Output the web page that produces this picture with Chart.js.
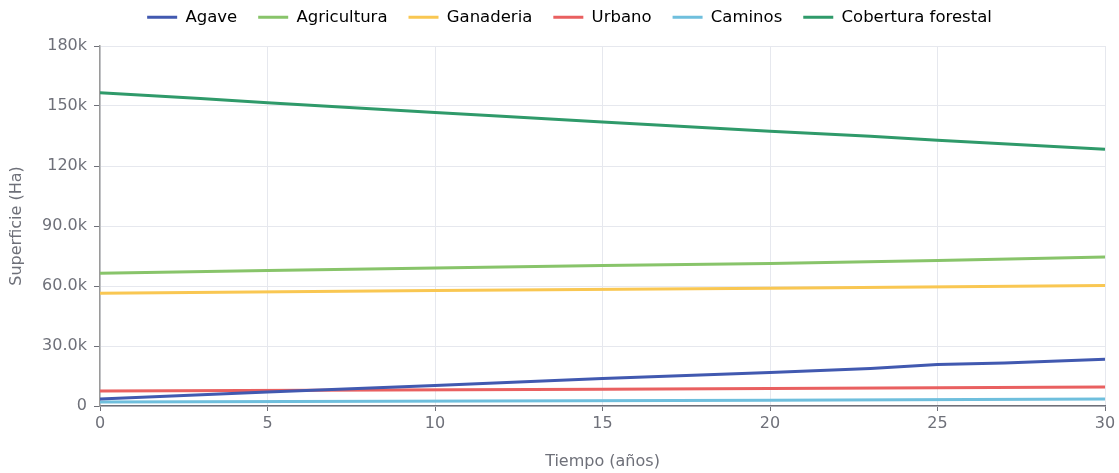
<!DOCTYPE html>
<html>
<head>
<meta charset="utf-8">
<script src="https://cdn.jsdelivr.net/npm/chart.js@4.4.1/dist/chart.umd.min.js"></script>
<style>
  html, body { margin: 0; padding: 0; background: #fff; }
  #wrap { width: 1119px; height: 473px; }
</style>
</head>
<body>
<div id="wrap"><canvas id="landChart"></canvas></div>
<script>
// ── Land use over time ──

const seriesNames = ['Agave', 'Agricultura', 'Ganaderia', 'Urbano', 'Caminos', 'Cobertura forestal'];
const seriesColors = ['#4159b0', '#88c46a', '#f9c752', '#e96060', '#6fbfdd', '#2f9a6a'];

const agaveYears = [0, 5, 10, 15, 20, 23, 25, 27, 30];
const agaveValues = [3500, 7000, 10200, 13700, 16700, 18700, 20700, 21500, 23400];

const agriYears = [0, 5, 10, 15, 20, 25, 30];
const agriValues = [66400, 67700, 69000, 70200, 71200, 72700, 74500];

const ganYears = [0, 10, 20, 30];
const ganValues = [56400, 57700, 58900, 60200];

const urbYears = [0, 15, 20, 30];
const urbValues = [7500, 8400, 8700, 9500];

const camYears = [0, 20, 30];
const camValues = [2000, 2900, 3500];

const forestYears = [0, 3, 5, 10, 12, 15, 20, 23, 25, 30];
const forestValues = [156600, 153800, 151600, 146800, 144900, 142000, 137400, 134900, 132900, 128400];

const allYears = [agaveYears, agriYears, ganYears, urbYears, camYears, forestYears];
const allValues = [agaveValues, agriValues, ganValues, urbValues, camValues, forestValues];

const xTitle = 'Tiempo (años)';
const yTitle = 'Superficie (Ha)';

const fontFam = '"DejaVu Sans", sans-serif';
const axisGray = '#6e7079';

function fmtK(v) {
  if (v === 0) return '0';
  if (v >= 100000) return (v / 1000) + 'k';
  return (v / 1000).toFixed(1) + 'k';
}

// fixed band for the legend above the plot (legend starts at -12, plot at 46),
// and nudge it right so it centres like the original
const legendBand = {
  id: 'legendBand',
  afterInit(chart) {
    const fit = chart.legend.fit;
    chart.legend.fit = function () { fit.call(this); this.height = 58; };
  },
  afterLayout(chart) {
    chart.legend.left += 34;
  }
};

new Chart(document.getElementById('landChart').getContext('2d'), {
  type: 'line',
  data: {
    datasets: seriesNames.map((name, i) => ({
      label: name,
      data: allYears[i].map((yr, j) => ({ x: yr, y: allValues[i][j] })),
      borderColor: seriesColors[i], backgroundColor: seriesColors[i],
      borderWidth: 3, tension: 0, fill: false,
      pointRadius: 0, pointHoverRadius: 0
    }))
  },
  options: {
    responsive: true, maintainAspectRatio: false, animation: false,
    layout: { padding: { left: 0, right: 14, top: -12, bottom: 0 } },
    plugins: {
      legend: {
        position: 'top',
        labels: {
          font: { size: 16.5, family: fontFam }, color: '#444',
          boxWidth: 30, boxHeight: 0, padding: 21,
          generateLabels: (chart) => chart.data.datasets.map((ds, i) => ({
            text: ds.label, fillStyle: ds.borderColor, strokeStyle: ds.borderColor,
            lineWidth: 3, datasetIndex: i, hidden: false
          }))
        }
      },
      tooltip: { enabled: false }
    },
    scales: {
      x: {
        type: 'linear', min: 0, max: 30,
        ticks: { stepSize: 5, font: { size: 16, family: fontFam }, color: axisGray, padding: 3 },
        grid: { color: '#e6e8ee', tickColor: axisGray, tickLength: 5 },
        border: { color: axisGray, width: 1.5 },
        title: { display: true, text: xTitle, font: { size: 16, family: fontFam }, color: axisGray, padding: { top: 4, bottom: 2 } },
        afterFit: (s) => { s.height = 67; }
      },
      y: {
        min: 0, max: 180000,
        ticks: { stepSize: 30000, callback: fmtK, font: { size: 16, family: fontFam }, color: axisGray, padding: 7 },
        grid: { color: '#e6e8ee', tickColor: axisGray, tickLength: 6 },
        border: { color: '#9a9a9a', width: 1.5 },
        title: { display: true, text: yTitle, font: { size: 16, family: fontFam }, color: axisGray, padding: { top: 7, bottom: 4 } },
        afterFit: (s) => { s.width = 100; }
      }
    }
  },
  plugins: [legendBand]
});
</script>
</body>
</html>
